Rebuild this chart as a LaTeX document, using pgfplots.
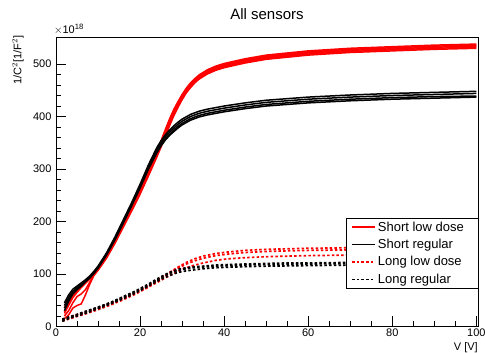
\documentclass[border=0pt]{standalone}
\usepackage{pgfplots}
\pgfplotsset{compat=1.18}
\usepackage{fontspec}
\setmainfont{Liberation Sans}
\begin{document}
\begin{tikzpicture}
\path[use as bounding box] (-56pt,-26.5pt) rectangle (429pt,326.5pt);
\begin{axis}[
  scale only axis,
  width=422pt, height=289.5pt,
  xmin=0, xmax=100.4, ymin=0, ymax=551.5,
  axis line style={line width=0.8pt},
  tick align=inside,
  xtick pos=left, ytick pos=left,
  xtick={0,20,40,60,80,100},
  ytick={0,100,200,300,400,500},
  minor x tick num=3, minor y tick num=4,
  major tick length=10pt, minor tick length=5pt,
  tick style={line width=0.8pt, black},
  /pgf/number format/assume math mode=true,
  ticklabel style={font=\fontsize{11}{13}\selectfont},
  xticklabel style={yshift=1pt},
  yticklabel style={xshift=-1pt},
  title={All sensors},
  title style={at={(axis description cs:0.5,1)}, anchor=center, yshift=17pt, font=\fontsize{15}{18}\selectfont},
  xlabel={V [V]},
  xlabel style={at={(axis description cs:1,-0.055)}, anchor=north east, inner sep=0pt, font=\fontsize{11}{13}\selectfont},
  legend style={at={(axis description cs:0.687,0.375)}, anchor=north west, draw=black, line width=0.6pt, fill=white,
     font=\fontsize{13}{15}\selectfont, inner xsep=5pt, inner ysep=1.5pt, row sep=2.5pt, cells={anchor=west}},
  legend cell align=left,
  legend image code/.code={\draw[#1] (0pt,0pt) -- (23pt,0pt);},
  clip=false,
]
% ---- Short low dose (red solid)
\pgfplotsset{shortstyle/.style={line width=1.5pt}}
\addplot[red, shortstyle] coordinates {(2,25)(3,40)(4,55)(5,65)(6,74)(7,82)(8,90)(9,99)(10,109)(12,133)(14,162)(16,193)(18,225)(20,258)(22,293)(24,330)(25,349)(26,370)(27,390)(28,408)(29,423)(30,437)(31,450)(32,460)(33,468)(34,475)(36,485)(38,492)(40,497)(45,506)(50,513)(55,517)(60,521)(70,526)(80,529)(90,532)(100,534)};
\addlegendentry{\makebox[93pt][l]{Short low dose}}
\addplot[red, shortstyle, forget plot] coordinates {(2,15)(3,22)(4,35)(5,40)(6,43)(7,60)(8,80)(9,97)(10,107)(12,130)(14,158)(16,189)(18,220)(20,252)(22,287)(24,323)(25,342)(26,362)(27,382)(28,401)(29,417)(30,432)(31,445)(32,455)(33,464)(34,471)(36,481)(38,488)(40,493)(45,502)(50,509)(55,513)(60,517)(70,522)(80,525)(90,528)(100,530)};
\addplot[red, shortstyle, forget plot] coordinates {(2,35)(3,50)(4,62)(5,70)(6,77)(7,85)(8,92)(9,101)(10,111)(12,135)(14,165)(16,196)(18,228)(20,262)(22,297)(24,335)(25,354)(26,375)(27,395)(28,413)(29,428)(30,442)(31,454)(32,464)(33,472)(34,479)(36,489)(38,496)(40,501)(45,510)(50,517)(55,521)(60,525)(70,530)(80,533)(90,536)(100,538)};
\addplot[red, shortstyle, forget plot] coordinates {(2,20)(3,30)(4,45)(5,57)(6,62)(7,70)(8,84)(9,98)(10,108)(12,131)(14,160)(16,191)(18,223)(20,255)(22,290)(24,327)(25,346)(26,366)(27,386)(28,404)(29,420)(30,434)(31,447)(32,457)(33,466)(34,473)(36,483)(38,490)(40,495)(45,504)(50,511)(55,515)(60,519)(70,524)(80,527)(90,530)(100,532)};
\addplot[red, shortstyle, forget plot] coordinates {(2,28)(3,45)(4,58)(5,67)(6,76)(7,84)(8,91)(9,100)(10,110)(12,134)(14,163)(16,195)(18,227)(20,260)(22,295)(24,333)(25,352)(26,372)(27,392)(28,411)(29,426)(30,440)(31,452)(32,462)(33,470)(34,477)(36,487)(38,494)(40,499)(45,508)(50,515)(55,519)(60,523)(70,528)(80,531)(90,534)(100,536)};
% ---- Short regular (black solid)
\addplot[black, shortstyle] coordinates {(2,40)(3,55)(4,67)(5,74)(6,80)(7,87)(8,94)(9,103)(10,113)(12,138)(14,168)(16,200)(18,233)(20,268)(22,305)(24,337)(25,350)(26,361)(27,370)(28,378)(29,385)(30,391)(32,400)(34,406)(36,410)(38,413)(40,416)(45,422)(50,427)(55,430)(60,433)(70,437)(80,440)(90,442)(100,444)};
\addlegendentry{Short regular}
\addplot[black, shortstyle, forget plot] coordinates {(2,30)(3,48)(4,63)(5,72)(6,79)(7,86)(8,93)(9,102)(10,112)(12,137)(14,166)(16,198)(18,231)(20,265)(22,301)(24,333)(25,346)(26,357)(27,366)(28,374)(29,381)(30,387)(32,396)(34,402)(36,406)(38,409)(40,412)(45,418)(50,423)(55,426)(60,429)(70,433)(80,436)(90,438)(100,439)};
\addplot[black, shortstyle, forget plot] coordinates {(2,45)(3,60)(4,71)(5,77)(6,83)(7,89)(8,96)(9,105)(10,115)(12,140)(14,170)(16,203)(18,236)(20,271)(22,308)(24,341)(25,354)(26,365)(27,374)(28,382)(29,389)(30,395)(32,404)(34,410)(36,414)(38,417)(40,420)(45,426)(50,431)(55,434)(60,437)(70,441)(80,444)(90,446)(100,448)};
\addplot[black, shortstyle, forget plot] coordinates {(2,35)(3,50)(4,62)(5,70)(6,77)(7,85)(8,92)(9,101)(10,111)(12,136)(14,165)(16,197)(18,230)(20,264)(22,300)(24,331)(25,344)(26,355)(27,364)(28,371)(29,378)(30,384)(32,393)(34,399)(36,403)(38,406)(40,409)(45,415)(50,420)(55,423)(60,426)(70,430)(80,433)(90,435)(100,437)};
% ---- Long low dose (red dashed)
\pgfplotsset{longstyle/.style={line width=1.7pt, dash pattern=on 2.5pt off 2.2pt}}
\addplot[red, longstyle] coordinates {(1.5,12)(3,16)(5,21)(7,26)(10,34)(13,43)(16,53)(19,64)(22,77)(25,91)(27,101)(29,111)(31,119)(33,125)(35,130)(38,135)(41,138)(45,141)(50,143)(55,144)(60,145)(70,146)(80,147)(90,148)(100,149)};
\addlegendentry{Long low dose}
\addplot[red, longstyle, forget plot] coordinates {(1.5,10)(3,14)(5,19)(7,24)(10,32)(13,41)(16,51)(19,62)(22,75)(25,88)(27,97)(29,105)(31,112)(33,117)(35,121)(38,126)(41,129)(45,131)(50,133)(55,134)(60,135)(70,136)(80,137)(90,138)(100,139)};
\addplot[red, longstyle, forget plot] coordinates {(1.5,14)(3,18)(5,23)(7,28)(10,36)(13,45)(16,55)(19,66)(22,79)(25,93)(27,103)(29,113)(31,122)(33,129)(35,134)(38,139)(41,142)(45,145)(50,147)(55,148)(60,149)(70,150)(80,151)(90,151)(100,152)};
% ---- Long regular (black dashed)
\addplot[black, longstyle] coordinates {(1.5,12)(3,16)(5,22)(7,27)(10,36)(13,45)(16,55)(19,66)(22,79)(25,93)(27,101)(29,107)(31,110)(33,112)(35,113)(38,115)(41,116)(45,117)(50,118)(55,118.5)(60,119)(70,120)(80,120.5)(90,121)(100,121)};
\addlegendentry{Long regular}
\addplot[black, longstyle, forget plot] coordinates {(1.5,10)(3,15)(5,20)(7,25)(10,34)(13,43)(16,53)(19,64)(22,77)(25,90)(27,97)(29,103)(31,106)(33,108)(35,110)(38,112)(41,113)(45,114)(50,115)(55,115.5)(60,116)(70,117)(80,117.5)(90,118)(100,118)};
\addplot[black, longstyle, forget plot] coordinates {(1.5,14)(3,18)(5,23)(7,29)(10,37)(13,46)(16,57)(19,68)(22,81)(25,95)(27,103)(29,109)(31,112)(33,114)(35,115)(38,117)(41,118)(45,119)(50,120)(55,121)(60,121)(70,122)(80,122.5)(90,123)(100,123)};
\node[anchor=south west, inner sep=0pt, font=\fontsize{11}{13}\selectfont] at (rel axis cs:-0.005,1.008) {$\times$10$^{\mathrm{18}}$};
\node[rotate=90, anchor=east, inner sep=0pt, font=\fontsize{11}{13}\selectfont] at (rel axis cs:-0.09,1.005) {1/C$^2$[1/F$^2$]};
\end{axis}
\end{tikzpicture}
\end{document}
